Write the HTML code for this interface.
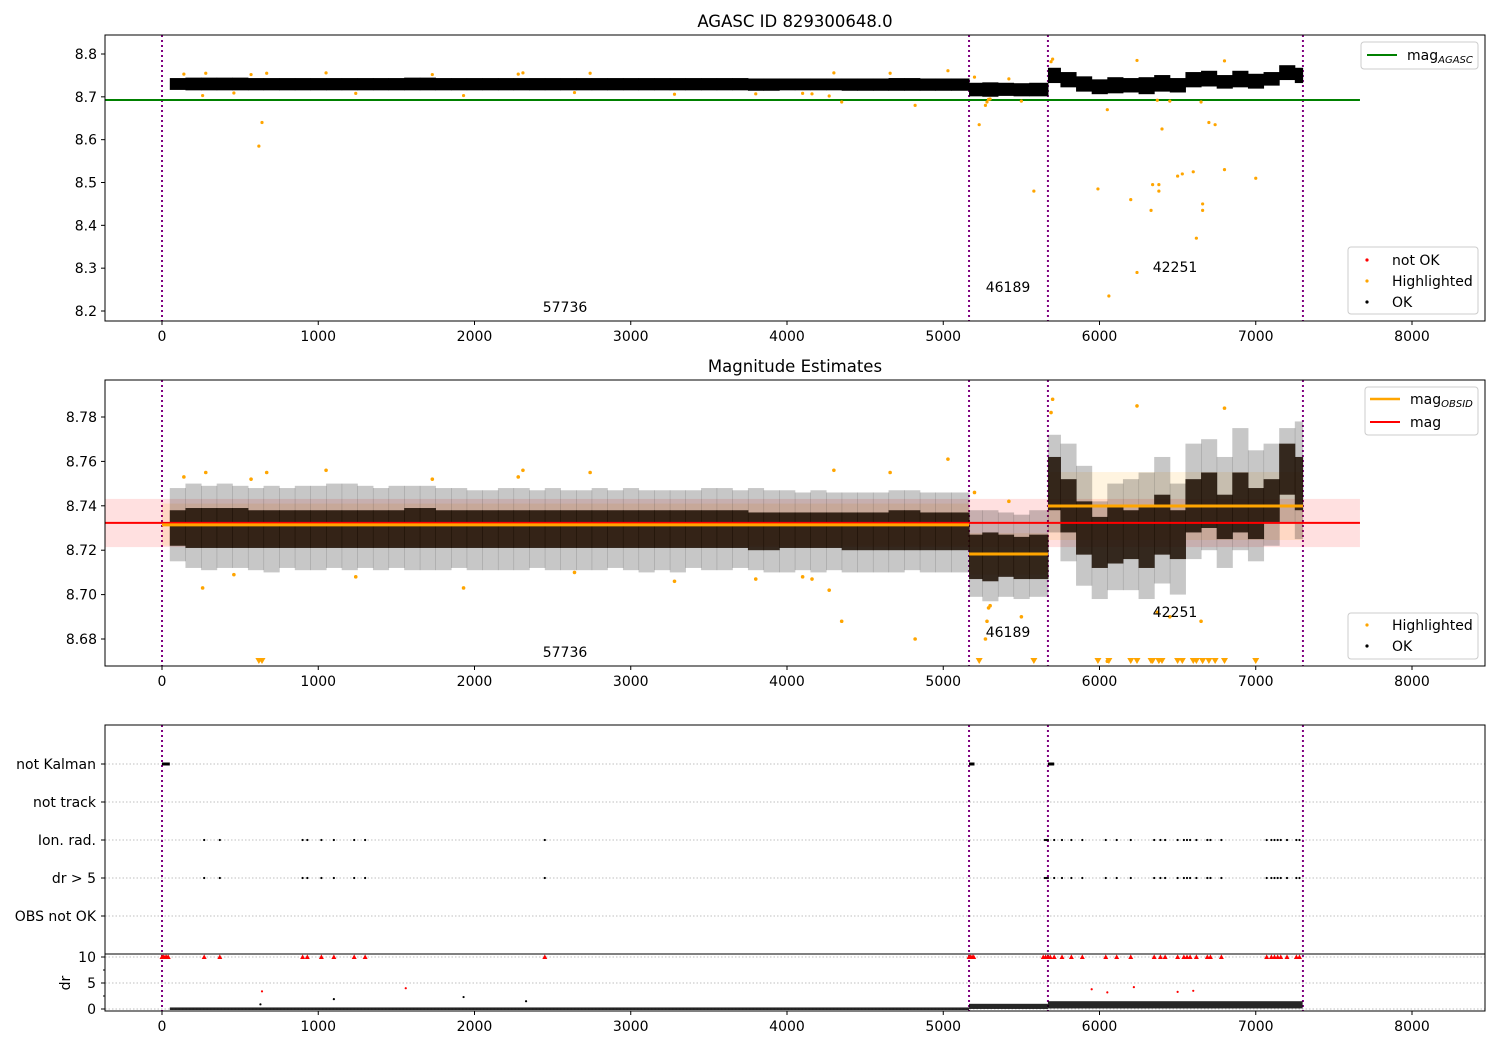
<!DOCTYPE html>
<html><head><meta charset="utf-8">
<style>
body{margin:0;background:#fff}
svg{display:block;font-family:"DejaVu Sans","Liberation Sans",sans-serif}
</style></head>
<body>
<svg id="c" width="1500" height="1050" viewBox="0 0 1500 1050" xmlns="http://www.w3.org/2000/svg"></svg>
<script>
// ---- data ----
const binTimes = [50,150,250,350,450,550,650,750,850,950,1050,1150,1250,1350,1450,1550,1650,1750,1850,1950,2050,2150,2250,2350,2450,2550,2650,2750,2850,2950,3050,3150,3250,3350,3450,3550,3650,3750,3850,3950,4050,4150,4250,4350,4450,4550,4650,4750,4850,4950,5050,5165,5250,5350,5450,5550,5670,5750,5850,5950,6050,6150,6250,6350,6450,6550,6650,6750,6850,6950,7050,7150,7250];
const binEnd = 7300;
const coreLo = [8.722,8.721,8.721,8.721,8.721,8.721,8.721,8.721,8.721,8.721,8.721,8.721,8.721,8.721,8.721,8.721,8.721,8.721,8.721,8.721,8.721,8.721,8.721,8.721,8.721,8.721,8.721,8.721,8.721,8.721,8.721,8.721,8.721,8.721,8.721,8.721,8.721,8.720,8.720,8.721,8.721,8.721,8.721,8.720,8.720,8.720,8.720,8.720,8.720,8.720,8.720,8.707,8.706,8.708,8.707,8.707,8.738,8.728,8.718,8.712,8.714,8.716,8.712,8.718,8.716,8.728,8.730,8.725,8.728,8.725,8.732,8.745,8.738];
const coreHi = [8.738,8.739,8.739,8.739,8.739,8.738,8.738,8.738,8.738,8.738,8.738,8.738,8.738,8.738,8.738,8.739,8.739,8.738,8.738,8.738,8.738,8.738,8.738,8.738,8.738,8.738,8.738,8.738,8.738,8.738,8.738,8.738,8.738,8.738,8.738,8.738,8.738,8.737,8.737,8.737,8.737,8.737,8.737,8.737,8.737,8.737,8.738,8.738,8.737,8.737,8.737,8.727,8.728,8.727,8.726,8.727,8.762,8.752,8.742,8.735,8.740,8.738,8.740,8.745,8.738,8.752,8.755,8.745,8.755,8.748,8.752,8.768,8.762];
const outLo = [8.715,8.712,8.711,8.712,8.712,8.711,8.710,8.712,8.711,8.711,8.712,8.711,8.712,8.711,8.712,8.711,8.711,8.711,8.712,8.711,8.711,8.711,8.711,8.712,8.711,8.711,8.711,8.711,8.712,8.711,8.710,8.711,8.710,8.712,8.711,8.711,8.712,8.711,8.710,8.710,8.711,8.710,8.711,8.710,8.710,8.710,8.710,8.711,8.710,8.710,8.710,8.699,8.697,8.699,8.698,8.699,8.728,8.715,8.704,8.698,8.702,8.702,8.698,8.705,8.700,8.716,8.720,8.712,8.720,8.715,8.722,8.732,8.725];
const outHi = [8.748,8.750,8.749,8.750,8.749,8.748,8.749,8.748,8.749,8.749,8.750,8.750,8.749,8.748,8.749,8.749,8.749,8.748,8.748,8.747,8.747,8.748,8.748,8.747,8.748,8.747,8.747,8.748,8.747,8.748,8.747,8.747,8.747,8.747,8.748,8.748,8.747,8.748,8.747,8.747,8.746,8.747,8.746,8.746,8.746,8.746,8.747,8.747,8.746,8.746,8.746,8.738,8.738,8.737,8.736,8.738,8.772,8.768,8.758,8.742,8.750,8.752,8.755,8.762,8.750,8.768,8.770,8.762,8.775,8.765,8.768,8.775,8.778];
const hlTimes = [620,640,5230,5580,5990,6050,6060,6200,6240,6240,6330,6340,6380,6380,6400,6500,6530,6600,6620,6660,6660,6700,6740,6800,7000,4820,4350,140,260,280,460,570,670,1050,1240,1730,1930,2280,2310,2640,2740,3280,3800,4100,4160,4270,4300,4660,5030,5200,5290,5300,5280,5420,5500,5700,5690,6800,6370,6450,6650,5270];
const hlMags  = [8.585,8.64,8.635,8.48,8.485,8.67,8.235,8.46,8.785,8.29,8.435,8.495,8.495,8.48,8.625,8.515,8.52,8.525,8.37,8.45,8.435,8.64,8.635,8.53,8.51,8.68,8.688,8.753,8.703,8.755,8.709,8.752,8.755,8.756,8.708,8.752,8.703,8.753,8.756,8.71,8.755,8.706,8.707,8.708,8.707,8.702,8.756,8.755,8.761,8.746,8.694,8.695,8.688,8.742,8.69,8.788,8.782,8.784,8.692,8.69,8.688,8.68];
const obsStarts = [0,5165,5670];
const obsEnds = [5165,5670,7302];
const obsIds = ["57736","46189","42251"];
const obsMag = [8.7314,8.7183,8.7399];
const obsBandLo = [8.722,8.709,8.7246];
const obsBandHi = [8.741,8.7277,8.7552];
const magAgasc = 8.6926;
const magMean = 8.7323, magBandLo = 8.7214, magBandHi = 8.7431, magLineEnd = 7667;
const flagRows = ["not Kalman","not track","Ion. rad.","dr > 5","OBS not OK"];
const notKalmanStart = [0,5165,5670];
const notKalmanEnd = [50,5200,5710];
const ionTimes = [270,370,900,930,1020,1100,1230,1300,2450,5650,5660,5670,5710,5760,5820,5890,6040,6110,6200,6350,6390,6420,6500,6540,6560,6580,6620,6690,6710,6780,7070,7100,7120,7140,7160,7200,7260,7280];
const dr10Times = [0,10,20,30,40,5165,5175,5185,5195,5640,5655,5670,5685,270,370,900,930,1020,1100,1230,1300,2450,5710,5760,5820,5890,6040,6110,6200,6350,6390,6420,6500,6540,6560,6580,6620,6690,6710,6780,7070,7100,7120,7140,7160,7200,7260,7280];
const drSegStart = [50,5165,5670];
const drSegEnd = [5165,5670,7300];
const drSegLo = [0,0.2,0.3];
const drSegHi = [0.3,1.0,1.5];
const drExtraT = [640,1100,1560,1930,2330,5950,6050,6220,6500,6600,630];
const drExtraV = [3.4,1.9,4.0,2.3,1.5,3.8,3.2,4.2,3.3,3.5,0.9];
const xTicks = [0,1000,2000,3000,4000,5000,6000,7000,8000];
const y1Ticks = [8.2,8.3,8.4,8.5,8.6,8.7,8.8];
const y2Ticks = [8.68,8.70,8.72,8.74,8.76,8.78];
const drTicks = [0,5,10];

// ---- scales ----
const L=105,R=1485;
const X = v => 162 + v*0.15625;
const Y1 = v => 54 + (8.8-v)*428.33;
const Y2 = v => 417 + (8.78-v)*2220;
const YD = v => 1009 - v*5.2;
const P1={t:35,b:321}, P2={t:380,b:666}, P3={t:725,b:1011,mid:954};
const rowY = [764,802,840,878,916];
const FS = 14;

const svg=document.getElementById('c');
const NS='http://www.w3.org/2000/svg';
function mk(tag,attrs,parent){const e=document.createElementNS(NS,tag);for(const k in attrs)e.setAttribute(k,attrs[k]);(parent||svg).appendChild(e);return e;}
function txt(s,attrs,parent){const e=mk('text',attrs,parent);e.textContent=s;return e;}

const defs=mk('defs',{});
[[P1,'c1'],[P2,'c2'],[P3,'c3']].forEach(([p,id])=>{const cp=mk('clipPath',{id},defs);mk('rect',{x:L,y:p.t,width:R-L,height:p.b-p.t},cp);});

function xAxis(p,name){
  const g=mk('g',{});
  
  
  xTicks.forEach(t=>{mk('line',{x1:X(t),x2:X(t),y1:p.b,y2:p.b+4,stroke:'#000'},g);
    txt(String(t),{x:X(t),y:p.b+20,'font-size':FS,'text-anchor':'middle'},g);});
}
function vlines(p,g){obsStarts.concat([obsEnds[2]]).forEach(t=>{const l=mk('line',{x1:X(t),x2:X(t),y1:p.t,y2:p.b,stroke:'#800080','stroke-width':2,'stroke-dasharray':'2,3'},g);});}

// ===== Panel 1 =====
txt('AGASC ID 829300648.0',{x:795,y:27,'font-size':16.5,'text-anchor':'middle',});
const g1=mk('g',{'clip-path':'url(#c1)'});


vlines(P1,g1);
const ag=mk('line',{x1:L,x2:X(magLineEnd),y1:Y1(magAgasc),y2:Y1(magAgasc),stroke:'green','stroke-width':2},g1);

binTimes.forEach((t,i)=>{const t2=i<binTimes.length-1?binTimes[i+1]:binEnd;
  const r=mk('rect',{x:X(t),y:Y1(coreHi[i])-2.5,width:X(t2)-X(t)+0.5,height:Y1(coreLo[i])-Y1(coreHi[i])+5,fill:'#000'},g1);
  });
hlTimes.forEach((t,i)=>{const c=mk('circle',{cx:X(t),cy:Y1(hlMags[i]),r:1.6,fill:'orange'},g1);
  });
obsIds.forEach((s,i)=>{const yy=[307,287,267][i];txt(s,{x:[565,1008,1175][i],y:yy+5,'font-size':FS,'text-anchor':'middle',},g1);});
mk('rect',{x:L,y:P1.t,width:R-L,height:P1.b-P1.t,fill:'none',stroke:'#000',});
y1Ticks.forEach(t=>{mk('line',{x1:L-4,x2:L,y1:Y1(t),y2:Y1(t),stroke:'#000'});txt(t.toFixed(1),{x:L-8,y:Y1(t)+5,'font-size':FS,'text-anchor':'end'});});
xAxis(P1,'x-axis-top');
let lg=mk('g',{});
mk('rect',{x:1361,y:42,width:117,height:27,rx:3,fill:'#fff',stroke:'#ccc'},lg);
mk('line',{x1:1367,x2:1397,y1:55,y2:55,stroke:'green','stroke-width':2},lg);
const t1=txt('mag',{x:1407,y:60,'font-size':FS},lg);const ts=mk('tspan',{'font-size':10,'font-style':'italic',dy:3},t1);ts.textContent='AGASC';
lg=mk('g',{});
mk('rect',{x:1348,y:247,width:130,height:67,rx:3,fill:'#fff',stroke:'#ccc'},lg);
[['not OK','red',260],['Highlighted','orange',281],['OK','#000',302]].forEach(([s,c,y])=>{mk('circle',{cx:1367,cy:y,r:1.6,fill:c},lg);txt(s,{x:1392,y:y+5,'font-size':FS},lg);});

// ===== Panel 2 =====
txt('Magnitude Estimates',{x:795,y:372,'font-size':16.5,'text-anchor':'middle',});
const g2=mk('g',{'clip-path':'url(#c2)'});


vlines(P2,g2);
mk('rect',{x:L,y:Y2(magBandHi),width:X(magLineEnd)-L,height:Y2(magBandLo)-Y2(magBandHi),fill:'red','fill-opacity':0.12},g2);
obsStarts.forEach((t,i)=>{mk('rect',{x:X(t),y:Y2(obsBandHi[i]),width:X(obsEnds[i])-X(t),height:Y2(obsBandLo[i])-Y2(obsBandHi[i]),fill:'orange','fill-opacity':0.12},g2);});
binTimes.forEach((t,i)=>{const t2=i<binTimes.length-1?binTimes[i+1]:binEnd;
  const r=mk('rect',{x:X(t),y:Y2(outHi[i]),width:X(t2)-X(t)+0.5,height:Y2(outLo[i])-Y2(outHi[i]),fill:'#000','fill-opacity':0.22},g2);
  
  const r2=mk('rect',{x:X(t),y:Y2(coreHi[i]),width:X(t2)-X(t)+0.5,height:Y2(coreLo[i])-Y2(coreHi[i]),fill:'#1a0c00','fill-opacity':0.85},g2);
  });
const ml=mk('line',{x1:L,x2:X(magLineEnd),y1:Y2(magMean),y2:Y2(magMean),stroke:'red','stroke-width':2},g2);

obsStarts.forEach((t,i)=>{const l=mk('line',{x1:X(t),x2:X(obsEnds[i]),y1:Y2(obsMag[i]),y2:Y2(obsMag[i]),stroke:'orange','stroke-width':3},g2);
  });
hlTimes.forEach((t,i)=>{const m=hlMags[i];
  if(m<8.668){const x=X(t),y=662;const p=mk('path',{d:`M${x-3.5},${y-4}L${x+3.5},${y-4}L${x},${y+2}Z`,fill:'orange'},g2);}
  else{const c=mk('circle',{cx:X(t),cy:Y2(m),r:1.8,fill:'orange'},g2);}});
obsIds.forEach((s,i)=>{const yy=[652,632,612][i];txt(s,{x:[565,1008,1175][i],y:yy+5,'font-size':FS,'text-anchor':'middle',},g2);});
mk('rect',{x:L,y:P2.t,width:R-L,height:P2.b-P2.t,fill:'none',stroke:'#000',});
y2Ticks.forEach(t=>{mk('line',{x1:L-4,x2:L,y1:Y2(t),y2:Y2(t),stroke:'#000'});txt(t.toFixed(2),{x:L-8,y:Y2(t)+5,'font-size':FS,'text-anchor':'end'});});
xAxis(P2,'x-axis-mid');
lg=mk('g',{});
mk('rect',{x:1365,y:387,width:113,height:48,rx:3,fill:'#fff',stroke:'#ccc'},lg);
mk('line',{x1:1370,x2:1400,y1:399,y2:399,stroke:'orange','stroke-width':2.5},lg);
const t2=txt('mag',{x:1410,y:404,'font-size':FS},lg);const ts2=mk('tspan',{'font-size':10,'font-style':'italic',dy:3},t2);ts2.textContent='OBSID';
mk('line',{x1:1370,x2:1400,y1:422,y2:422,stroke:'red','stroke-width':2},lg);
txt('mag',{x:1410,y:427,'font-size':FS},lg);
lg=mk('g',{});
mk('rect',{x:1348,y:613,width:130,height:46,rx:3,fill:'#fff',stroke:'#ccc'},lg);
[['Highlighted','orange',625],['OK','#000',646]].forEach(([s,c,y])=>{mk('circle',{cx:1367,cy:y,r:1.6,fill:c},lg);txt(s,{x:1392,y:y+5,'font-size':FS},lg);});

// ===== Panel 3 =====
const g3=mk('g',{'clip-path':'url(#c3)'});


rowY.forEach(y=>mk('line',{x1:L,x2:R,y1:y,y2:y,stroke:'#aaa','stroke-dasharray':'1.5,2','stroke-width':0.8},g3));
drTicks.forEach(t=>mk('line',{x1:L,x2:R,y1:YD(t),y2:YD(t),stroke:'#aaa','stroke-dasharray':'1.5,2','stroke-width':0.8},g3));
vlines(P3,g3);
notKalmanStart.forEach((t,i)=>{const r=mk('rect',{x:X(t),y:rowY[0]-1.5,width:X(notKalmanEnd[i])-X(t),height:3,fill:'#000'},g3);});
ionTimes.forEach(t=>{[2,3].forEach(k=>{const c=mk('circle',{cx:X(t),cy:rowY[k],r:1.1,fill:'#000'},g3);});});
dr10Times.forEach(t=>{const x=X(t),y=YD(10);const p=mk('path',{d:`M${x-2.5},${y+2}L${x+2.5},${y+2}L${x},${y-2.5}Z`,fill:'red'},g3);});
drSegStart.forEach((t,i)=>{const r=mk('rect',{x:X(t),y:YD(drSegHi[i]),width:X(drSegEnd[i])-X(t),height:YD(drSegLo[i])-YD(drSegHi[i])+1,fill:'#000','fill-opacity':0.85},g3);});
drExtraT.forEach((t,i)=>{const c=mk('circle',{cx:X(t),cy:YD(drExtraV[i]),r:1.1,fill:drExtraV[i]>3?'red':'#000'},g3);});
mk('rect',{x:L,y:P3.t,width:R-L,height:P3.b-P3.t,fill:'none',stroke:'#000',});
mk('line',{x1:L,x2:R,y1:P3.mid,y2:P3.mid,stroke:'#000'});
flagRows.forEach((s,i)=>{mk('line',{x1:L-4,x2:L,y1:rowY[i],y2:rowY[i],stroke:'#000'});txt(s,{x:L-9,y:rowY[i]+5,'font-size':FS,'text-anchor':'end',});});
drTicks.forEach(t=>{mk('line',{x1:L-4,x2:L,y1:YD(t),y2:YD(t),stroke:'#000'});txt(String(t),{x:L-9,y:YD(t)+5,'font-size':FS,'text-anchor':'end'});});
[2.5,7.5].forEach(t=>mk('line',{x1:L-2,x2:L,y1:YD(t),y2:YD(t),stroke:'#000'}));
txt('dr',{x:70,y:983,'font-size':FS,'text-anchor':'middle',transform:'rotate(-90 70 983)',});
xAxis(P3,'x-axis-bottom');
</script>
</body></html>
